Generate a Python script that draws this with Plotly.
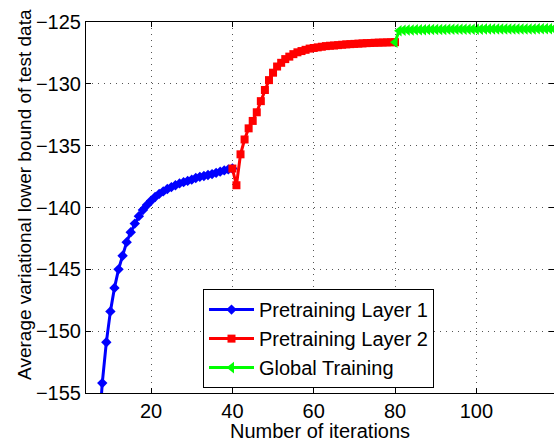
import plotly.graph_objects as go

# Pretraining layer 1 (x = iteration)
x_layer1 = [5, 6, 7, 8, 9, 10, 11, 12, 13, 14, 15, 16, 17, 18, 19, 20, 21, 22, 23, 24,
            25, 26, 27, 28, 29, 30, 31, 32, 33, 34, 35, 36, 37, 38, 39, 40]
y_layer1 = [-172.0, -165.0, -159.0, -154.2, -150.9, -148.4, -146.5, -145.0, -143.9, -142.8,
            -142.0, -141.3, -140.7, -140.2, -139.8, -139.45, -139.15, -138.9, -138.7, -138.5,
            -138.35, -138.2, -138.05, -137.95, -137.85, -137.75, -137.62, -137.52, -137.45, -137.37,
            -137.3, -137.2, -137.1, -137.0, -136.92, -136.85]

# Pretraining layer 2
x_layer2 = list(range(40, 81))
y_layer2 = [-136.85, -138.2, -135.7, -134.5, -133.6, -133.0, -132.3, -131.4, -130.5, -129.7,
            -129.1, -128.6, -128.3, -128.0, -127.8, -127.6, -127.45, -127.35, -127.25, -127.15,
            -127.1, -127.05, -127.0, -126.95, -126.92, -126.9, -126.87, -126.84, -126.81, -126.79,
            -126.77, -126.75, -126.73, -126.71, -126.7, -126.68, -126.67, -126.66, -126.65, -126.64,
            -126.63]

# Global training
x_global = list(range(80, 121))
y_global = [-126.63, -125.70, -125.67, -125.65, -125.64, -125.63, -125.62, -125.62, -125.61, -125.61,
            -125.60, -125.60, -125.60, -125.59, -125.59, -125.59, -125.59, -125.58, -125.58, -125.58,
            -125.58, -125.58, -125.57, -125.57, -125.57, -125.57, -125.57, -125.57, -125.56, -125.56,
            -125.56, -125.56, -125.56, -125.56, -125.56, -125.55, -125.55, -125.55, -125.55, -125.55,
            -125.55]

x_ticks = [20, 40, 60, 80, 100]
y_ticks = [-155, -150, -145, -140, -135, -130, -125]
x_range = [4, 119.1]
y_range = [-155, -125]

FONT = "Liberation Sans, Arial, Helvetica, sans-serif"

fig = go.Figure()
fig.add_trace(go.Scatter(x=x_layer1, y=y_layer1, name="Pretraining Layer 1",
                         mode="lines+markers", line=dict(color="#0000ff", width=3),
                         marker=dict(symbol="diamond", size=8, color="#0000ff")))
fig.add_trace(go.Scatter(x=x_layer2, y=y_layer2, name="Pretraining Layer 2",
                         mode="lines+markers", line=dict(color="#ff0000", width=3),
                         marker=dict(symbol="square", size=8, color="#ff0000")))
fig.add_trace(go.Scatter(x=x_global, y=y_global, name="Global Training",
                         mode="lines+markers", line=dict(color="#00ff00", width=3),
                         marker=dict(symbol="triangle-left", size=10, color="#00ff00")))
# invisible trace to carry right-side tick marks
fig.add_trace(go.Scatter(x=[x_range[0]], y=[y_range[0]], yaxis="y2", showlegend=False,
                         mode="markers", marker=dict(opacity=0), hoverinfo="skip"))

fig.update_layout(
    width=554, height=438,
    margin=dict(l=86, r=0, t=22, b=45, autoexpand=False),
    paper_bgcolor="white", plot_bgcolor="white",
    font=dict(family=FONT, size=20, color="black"),
    showlegend=True,
    legend=dict(x=0.25, y=0.28, xanchor="left", yanchor="top",
                bgcolor="white", bordercolor="black", borderwidth=1,
                font=dict(size=20), itemwidth=45, tracegroupgap=0),
    xaxis=dict(range=x_range, tickvals=x_ticks, ticks="inside", ticklen=5,
               tickcolor="black", showline=True, linecolor="black", linewidth=1,
               mirror="ticks", showgrid=True, gridcolor="#555555", gridwidth=1,
               griddash="1px,5px", zeroline=False, automargin=False),
    yaxis=dict(range=y_range, tickvals=y_ticks, ticks="inside", ticklen=5,
               tickcolor="black", showline=True, linecolor="black", linewidth=1,
               mirror=False, showgrid=True, gridcolor="#555555", gridwidth=1,
               griddash="1px,5px", zeroline=False, automargin=False),
    yaxis2=dict(range=y_range, tickvals=y_ticks, ticks="inside", ticklen=5,
                tickcolor="black", overlaying="y", side="right", showticklabels=False,
                showgrid=False, showline=False, zeroline=False, automargin=False),
    annotations=[
        dict(text="Number of iterations", xref="paper", yref="paper",
             x=0.5, y=-0.068, xanchor="center", yanchor="top", showarrow=False,
             font=dict(size=20)),
        dict(text="Average variational lower bound of test data", xref="paper", yref="paper",
             x=-0.1303, y=0.534, xanchor="center", yanchor="middle", showarrow=False,
             textangle=-90, font=dict(size=19)),
    ],
)

fig.write_html("out.html", config={"displayModeBar": False},
               post_script="document.body.style.margin='0';document.body.style.overflow='hidden';")
